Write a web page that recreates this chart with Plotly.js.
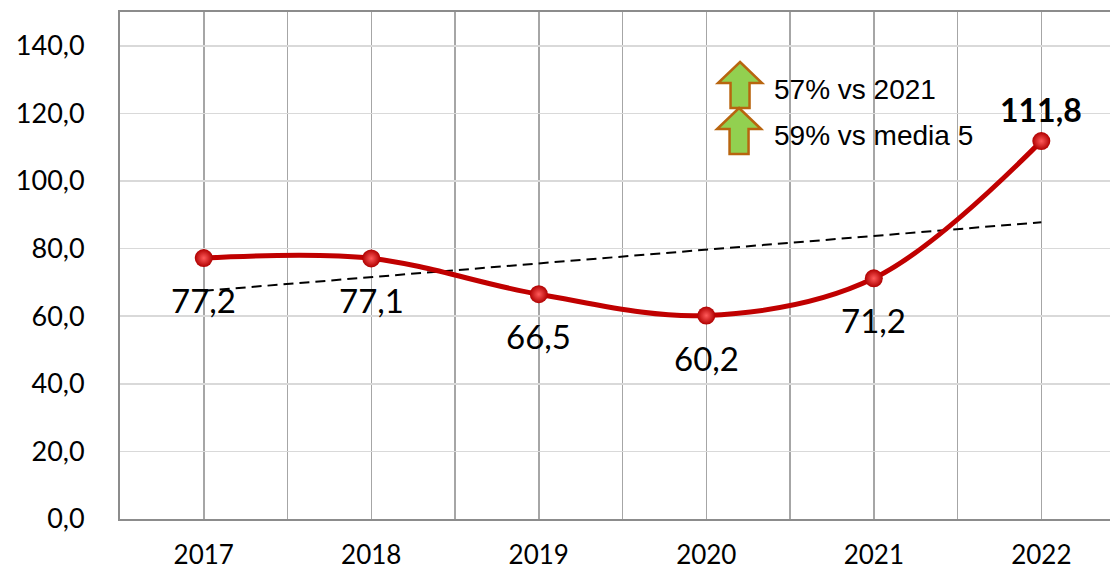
<!DOCTYPE html>
<html>
<head>
<meta charset="utf-8">
<script src="https://cdn.plot.ly/plotly-3.0.1.min.js"></script>
<style>
  html, body { margin: 0; padding: 0; background: #ffffff; overflow: hidden; }
  #chart { width: 1110px; height: 572px; }
</style>
</head>
<body>
<div id="chart"></div>
<script>
// ---- Data ----
const years = ['2017', '2018', '2019', '2020', '2021', '2022'];
const values = [77.2, 77.1, 66.5, 60.2, 71.2, 111.8];
const trendYears = ['2017', '2022'];
const trendValues = [67.5, 87.8];
const notes = ['57% vs 2021', '59% vs media 5'];
const highlightYear = '2022';

// ---- Helpers ----
const idx = y => years.indexOf(y);
const xPos = years.map(idx);
const fmt = v => v.toFixed(1).replace('.', ',');

const lineTrace = {
  x: xPos,
  y: values,
  type: 'scatter',
  mode: 'lines+markers',
  line: { color: '#c00000', width: 5, shape: 'spline', smoothing: 1 },
  marker: {
    size: 18,
    color: '#b00000',
    gradient: { type: 'radial', color: '#ff5a5a' },
    line: { width: 0 }
  },
  hoverinfo: 'skip',
  showlegend: false
};

const trendTrace = {
  x: trendYears.map(idx),
  y: trendValues,
  type: 'scatter',
  mode: 'lines',
  line: { color: '#000000', width: 2, dash: '10px,6px' },
  hoverinfo: 'skip',
  showlegend: false
};

const annotations = values.map((v, i) => {
  const isHigh = years[i] === highlightYear;
  return {
    x: xPos[i], y: v, xref: 'x', yref: 'y',
    text: isHigh ? '<b>' + fmt(v) + '</b>' : fmt(v),
    showarrow: false,
    xanchor: 'center', yanchor: 'middle',
    yshift: isHigh ? 32 : -42,
    font: { family: 'Lato, sans-serif', size: isHigh ? 32 : 33, color: '#000000' }
  };
});

// Notes next to arrows
const noteY = [0.848, 0.757];
notes.forEach((t, i) => {
  annotations.push({
    x: 0.659, y: noteY[i], xref: 'paper', yref: 'paper',
    text: t, showarrow: false, xanchor: 'left', yanchor: 'middle',
    font: { family: 'Liberation Sans, Arial, sans-serif', size: 28, color: '#000000' }
  });
});

// Up arrows (decorations, drawn in pixel units relative to their tip)
const arrowPath = 'M 0 0 L 22 -21 L 9.5 -21 L 9.5 -46 L -9.5 -46 L -9.5 -21 L -22 -21 Z';
const arrowTips = [[0.6263, 0.9014], [0.6253, 0.8107]];
const shapes = arrowTips.map(([ax, ay]) => ({
  type: 'path',
  xref: 'paper', yref: 'paper',
  xsizemode: 'pixel', ysizemode: 'pixel',
  xanchor: ax, yanchor: ay,
  path: arrowPath,
  fillcolor: '#92d050',
  line: { color: '#b8650f', width: 2.5 },
  layer: 'above'
}));

const minorVals = [];
for (let i = 0; i < years.length; i++) minorVals.push(i - 0.5, i + 0.5);

const layout = {
  width: 1110,
  height: 572,
  margin: { l: 120, r: 0, t: 12, b: 53 },
  paper_bgcolor: '#ffffff',
  plot_bgcolor: '#ffffff',
  separators: ',.',
  font: { family: 'Lato, sans-serif', color: '#000000' },
  xaxis: {
    type: 'linear',
    range: [-0.5, 5.41],
    tickvals: xPos,
    ticktext: years,
    showgrid: true,
    gridcolor: '#a6a6a6',
    gridwidth: 1.5,
    ticks: '',
    ticklabelstandoff: 12,
    tickfont: { family: 'Lato, sans-serif', size: 26, color: '#000000' },
    minor: { tickvals: minorVals, showgrid: true, gridcolor: '#a6a6a6', gridwidth: 1.5, ticks: '' },
    showline: true,
    linecolor: '#8c8c8c',
    linewidth: 2,
    mirror: true,
    zeroline: false,
    fixedrange: true
  },
  yaxis: {
    range: [0, 150],
    tickvals: [0, 20, 40, 60, 80, 100, 120, 140],
    tickformat: '.1f',
    showgrid: true,
    gridcolor: '#d9d9d9',
    gridwidth: 1.5,
    ticks: '',
    ticklabelstandoff: 28,
    tickfont: { family: 'Lato, sans-serif', size: 27, color: '#000000' },
    showline: true,
    linecolor: '#8c8c8c',
    linewidth: 2,
    zeroline: false,
    fixedrange: true
  },
  annotations: annotations,
  shapes: shapes,
  showlegend: false
};

Plotly.newPlot('chart', [trendTrace, lineTrace], layout, { displayModeBar: false, staticPlot: true });
</script>
</body>
</html>
